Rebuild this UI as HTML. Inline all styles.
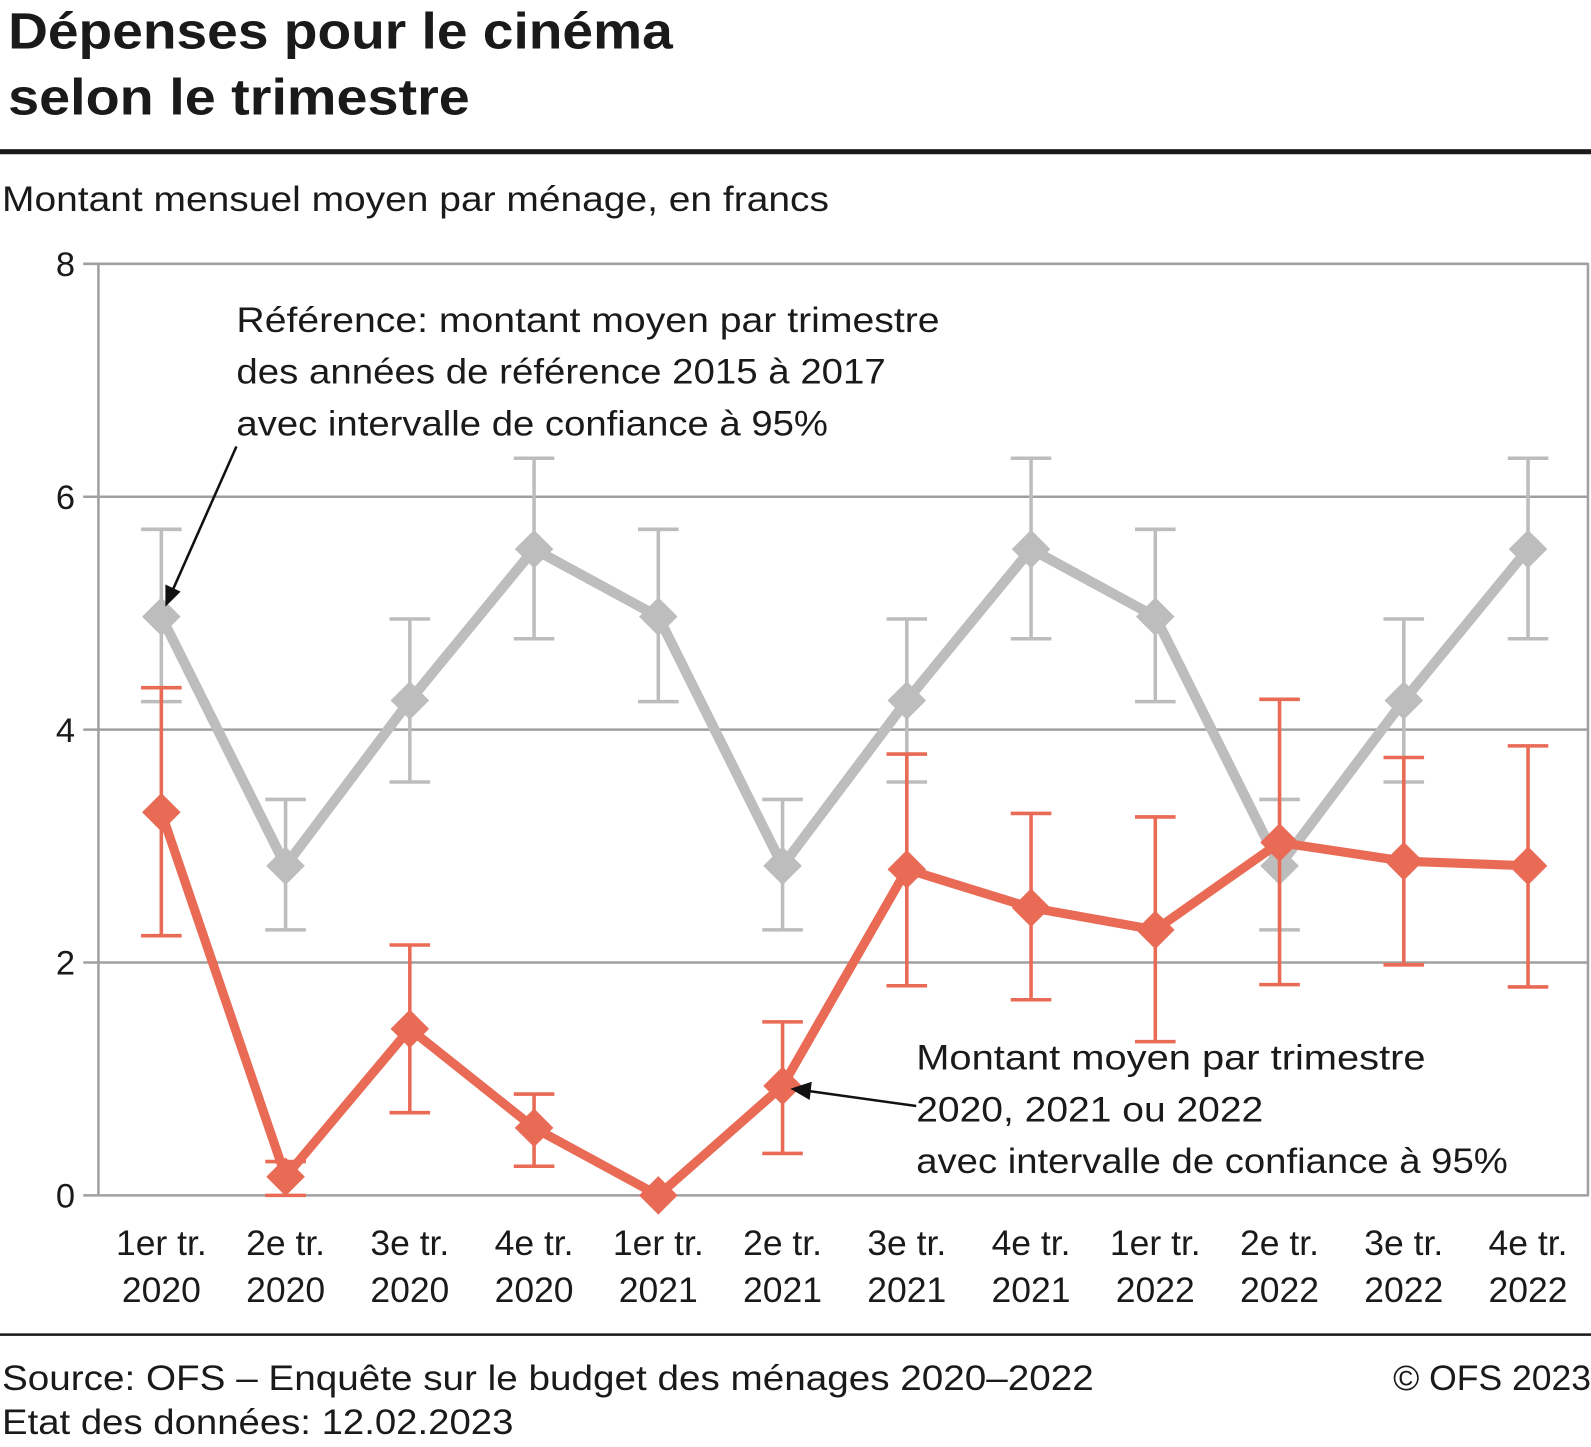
<!DOCTYPE html>
<html><head><meta charset="utf-8"><style>
html,body{margin:0;padding:0;background:#fff;}
svg{display:block;font-family:"Liberation Sans",sans-serif;}
</style></head><body>
<svg id="chart" width="1591" height="1447" viewBox="0 0 1568 1426" preserveAspectRatio="none" xmlns="http://www.w3.org/2000/svg">
<text x="8" y="48" font-size="50" font-weight="bold" fill="#1a1a1a" textLength="655" lengthAdjust="spacingAndGlyphs">Dépenses pour le cinéma</text>
<text x="8" y="113" font-size="50" font-weight="bold" fill="#1a1a1a" textLength="455" lengthAdjust="spacingAndGlyphs">selon le trimestre</text>
<rect x="0" y="147" width="1568" height="5" fill="#1a1a1a"/>
<text x="2" y="208" font-size="35" fill="#1a1a1a" textLength="815" lengthAdjust="spacingAndGlyphs">Montant mensuel moyen par ménage, en francs</text>
<g id="grid"></g>
<g id="series"></g>
<g font-size="35" fill="#1a1a1a">
<text x="233" y="327" textLength="693" lengthAdjust="spacingAndGlyphs">Référence: montant moyen par trimestre</text>
<text x="233" y="378" textLength="640" lengthAdjust="spacingAndGlyphs">des années de référence 2015 à 2017</text>
<text x="233" y="429" textLength="583" lengthAdjust="spacingAndGlyphs">avec intervalle de confiance à 95%</text>
<line x1="233" y1="440" x2="170" y2="582" stroke="#111" stroke-width="2.5"/>
<polygon points="163,598 163,576 178,583" fill="#111"/>
</g>
<g font-size="35" fill="#1a1a1a">
<text x="903" y="1054" textLength="502" lengthAdjust="spacingAndGlyphs">Montant moyen par trimestre</text>
<text x="903" y="1105" textLength="342" lengthAdjust="spacingAndGlyphs">2020, 2021 ou 2022</text>
<text x="903" y="1156" textLength="583" lengthAdjust="spacingAndGlyphs">avec intervalle de confiance à 95%</text>
<line x1="903" y1="1090" x2="796" y2="1075" stroke="#111" stroke-width="2.5"/>
<polygon points="779,1073 800,1066 798,1084" fill="#111"/>
</g>
<rect x="0" y="1314" width="1568" height="2.5" fill="#1a1a1a"/>
<text x="2" y="1370" font-size="35" fill="#1a1a1a" textLength="1076" lengthAdjust="spacingAndGlyphs">Source: OFS – Enquête sur le budget des ménages 2020–2022</text>
<text x="2" y="1413" font-size="35" fill="#1a1a1a" textLength="504" lengthAdjust="spacingAndGlyphs">Etat des données: 12.02.2023</text>
<text x="1568" y="1370" font-size="35" fill="#1a1a1a" text-anchor="end">© OFS 2023</text>
</svg>
<script>
const quarters = ["1er tr.","2e tr.","3e tr.","4e tr.","1er tr.","2e tr.","3e tr.","4e tr.","1er tr.","2e tr.","3e tr.","4e tr."];
const years = ["2020","2020","2020","2020","2021","2021","2021","2021","2022","2022","2022","2022"];
const yTicks = [0,2,4,6,8];
const refValues = [4.97,2.83,4.25,5.55,4.97,2.83,4.25,5.55,4.97,2.83,4.25,5.55];
const refLow = [4.24,2.28,3.55,4.78,4.24,2.28,3.55,4.78,4.24,2.28,3.55,4.78];
const refHigh = [5.72,3.40,4.95,6.33,5.72,3.40,4.95,6.33,5.72,3.40,4.95,6.33];
const curValues = [3.29,0.16,1.43,0.58,0,0.94,2.80,2.47,2.28,3.03,2.87,2.83];
const curLow = [2.23,0,0.71,0.25,null,0.36,1.80,1.68,1.32,1.81,1.98,1.79];
const curHigh = [4.36,0.29,2.15,0.87,null,1.49,3.79,3.28,3.25,4.26,3.76,3.86];

const NS="http://www.w3.org/2000/svg";
const plotLeft=97,plotRight=1565,plotTop=260,plotBottom=1178;
const x0=159,step=122.45;
function xs(i){return x0+i*step;}
function ys(v){return plotBottom-(v/8)*(plotBottom-plotTop);}
function mk(tag,attrs,parent){const e=document.createElementNS(NS,tag);for(const k in attrs)e.setAttribute(k,attrs[k]);parent.appendChild(e);return e;}
const grid=document.getElementById('grid');
const series=document.getElementById('series');

yTicks.forEach(t=>{
  const l=mk('line',{x1:82,x2:plotRight,y1:ys(t),y2:ys(t),stroke:'#a0a0a0','stroke-width':2.5},grid);
  
  
  const tx=mk('text',{x:74,y:ys(t)+12,'font-size':34,'text-anchor':'end',fill:'#1a1a1a'},grid);
  tx.textContent=t;
  
  
});
const ax=mk('line',{x1:plotLeft,x2:plotLeft,y1:plotTop-1,y2:plotBottom+1,stroke:'#a0a0a0','stroke-width':2.5},grid);


const rb=mk('line',{x1:plotRight,x2:plotRight,y1:plotTop-1,y2:plotBottom+1,stroke:'#a0a0a0','stroke-width':2.5},grid);


quarters.forEach((q,i)=>{
  const t1=mk('text',{x:xs(i),y:1237,'font-size':35,'text-anchor':'middle',fill:'#1a1a1a'},grid);
  t1.textContent=q;
  
  
  const t2=mk('text',{x:xs(i),y:1283,'font-size':35,'text-anchor':'middle',fill:'#1a1a1a'},grid);
  t2.textContent=years[i];
  
  
});

function drawSeries(vals,lo,hi,color,lw,name){
  const g=mk('g',{},series);
  
  
  vals.forEach((v,i)=>{
    if(lo[i]==null)return;
    const x=xs(i);
    const e=mk('path',{d:`M${x-20},${ys(hi[i])}H${x+20}M${x},${ys(hi[i])}V${ys(lo[i])}M${x-20},${ys(lo[i])}H${x+20}`,stroke:color,'stroke-width':3.5,fill:'none'},g);
    
    
  });
  const pl=mk('polyline',{points:vals.map((v,i)=>xs(i)+','+ys(v)).join(' '),stroke:color,'stroke-width':lw,fill:'none','stroke-linejoin':'miter'},g);
  
  
  vals.forEach((v,i)=>{
    const x=xs(i),y=ys(v),s=19;
    const d=mk('polygon',{points:`${x},${y-s} ${x+s},${y} ${x},${y+s} ${x-s},${y}`,fill:color},g);
    
    
  });
}
drawSeries(refValues,refLow,refHigh,'#bdbdbd',10,'reference');
drawSeries(curValues,curLow,curHigh,'#e96a55',9,'current');
</script>
</body></html>
